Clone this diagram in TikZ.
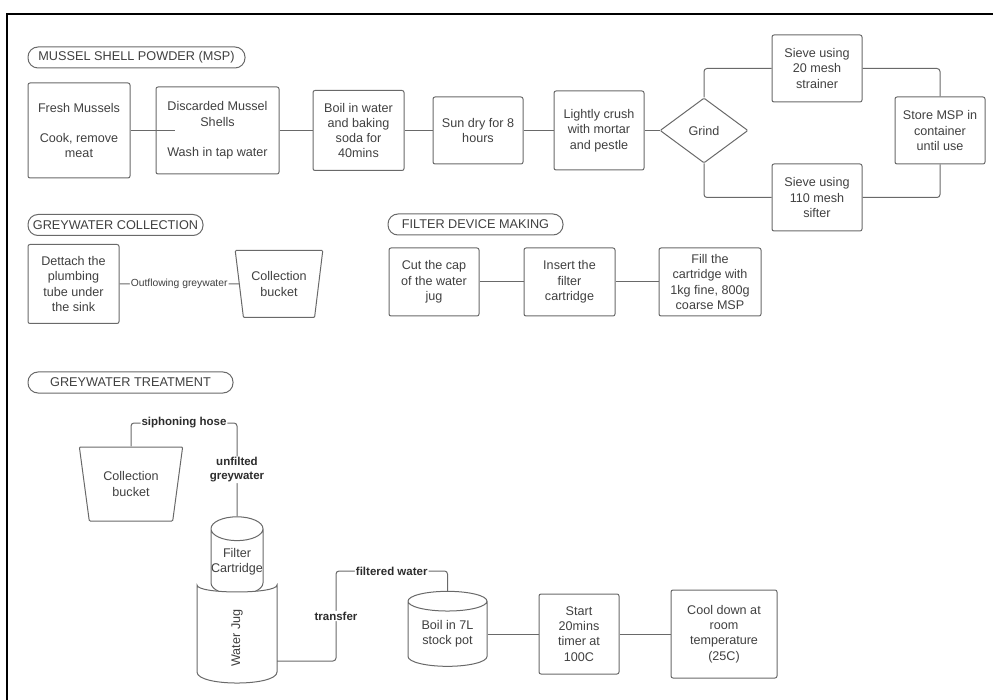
\documentclass[tikz,border=0pt]{standalone}
\usepackage{fontspec}
\setmainfont{Liberation Sans}
\usepackage{xcolor}
\definecolor{lcgrey}{RGB}{105,105,105}
\definecolor{lctext}{RGB}{64,64,64}
\definecolor{lclabel}{RGB}{45,45,45}
\usepackage{tikz}
\usetikzlibrary{shapes.geometric}
\tikzset{
  procbox/.style={draw=lcgrey, line width=1pt, rounded corners=2pt, align=center, inner sep=1pt, text=lctext, font=\fontsize{12.6}{15.3}\selectfont},
  pill/.style={draw=lcgrey, line width=1pt, rounded corners=10pt, minimum height=21pt, inner sep=0pt, text=lctext, font=\fontsize{12.7}{15}\selectfont},
  link/.style={draw=lcgrey, line width=1pt, rounded corners=3pt},
  lbl/.style={fill=white, inner sep=1pt, text=lctext, font=\fontsize{10.3}{12}\selectfont},
  blbl/.style={fill=white, inner sep=1pt, text=lclabel, align=center, font=\fontsize{11.5}{14}\selectfont\bfseries},
  bucket/.style={procbox, trapezium, trapezium stretches=true, shape border rotate=180, rounded corners=1pt},
  drum/.style={procbox, cylinder, shape border rotate=90, sharp corners, fill=white, inner sep=0pt},
}

\begin{document}
\begin{tikzpicture}[x=1pt, y=-1pt]
  \useasboundingbox (0,0) rectangle (993,700);
  \draw[line width=1.5pt] (7,700) -- (7,14) -- (993,14);

  % mussel shell powder
  \node[pill, minimum width=217pt] (tmsp) at (136.5,57.5) {MUSSEL SHELL POWDER (MSP)};
  \node[procbox, minimum width=102pt, minimum height=95pt] (fresh) at (79,130.5) {Fresh Mussels\\[15.3pt]Cook, remove\\meat};
  \node[procbox, minimum width=123pt, minimum height=87pt] (shells) at (217.5,130.5) {Discarded Mussel\\Shells\\[15.3pt]Wash in tap water};
  \coordinate (shellin) at (175,130.5);
  \node[procbox, minimum width=91pt, minimum height=80pt] (boil) at (358.5,130.5) {Boil in water\\and baking\\soda for\\40mins};
  \node[procbox, minimum width=90pt, minimum height=67pt] (sundry) at (478,130.5) {Sun dry for 8\\hours};
  \node[procbox, minimum width=90pt, minimum height=79pt] (crush) at (599,130.5) {Lightly crush\\with mortar\\and pestle};
  \node[procbox, diamond, minimum width=88pt, minimum height=65pt, inner sep=0pt, rounded corners=1pt] (grind) at (704,130.5) {Grind};
  \node[procbox, minimum width=90pt, minimum height=67pt] (sieveA) at (817,68.5) {Sieve using\\20 mesh\\strainer};
  \node[procbox, minimum width=90pt, minimum height=67pt] (sieveB) at (817,197.5) {Sieve using\\110 mesh\\sifter};
  \node[procbox, minimum width=90pt, minimum height=67pt] (store) at (940,130.5) {Store MSP in\\container\\until use};
  \draw[link] (fresh.east) -- (shellin);
  \draw[link] (shells.east) -- (boil.west);
  \draw[link] (boil.east) -- (sundry.west);
  \draw[link] (sundry.east) -- (crush.west);
  \draw[link] (crush.east) -- (grind.west);
  \draw[link] (grind.north) |- (sieveA.west);
  \draw[link] (grind.south) |- (sieveB.west);
  \draw[link] (sieveA.east) -| (store.north);
  \draw[link] (sieveB.east) -| (store.south);

  % greywater collection
  \node[pill, minimum width=175pt] (tcoll) at (115.5,225) {GREYWATER COLLECTION};
  \node[procbox, minimum width=91pt, minimum height=79pt] (detach) at (73.5,284) {Dettach the\\plumbing\\tube under\\the sink};
  \node[bucket, minimum width=88pt, minimum height=67pt, trapezium left angle=76, trapezium right angle=76] (buckA) at (279,284) {Collection\\bucket};
  \draw[link] (detach.east) -- node[lbl]{Outflowing greywater} (buckA);

  % filter device making
  \node[pill, minimum width=175pt] (tfilt) at (475.5,224.5) {FILTER DEVICE MAKING};
  \node[procbox, minimum width=90pt, minimum height=68pt] (cutcap) at (434,282) {Cut the cap\\of the water\\jug};
  \node[procbox, minimum width=91pt, minimum height=68pt] (insert) at (569.5,282) {Insert the\\filter\\cartridge};
  \node[procbox, minimum width=102pt, minimum height=68pt] (fillcart) at (710,282) {Fill the\\cartridge with\\1kg fine, 800g\\coarse MSP};
  \draw[link] (cutcap.east) -- (insert.west);
  \draw[link] (insert.east) -- (fillcart.west);

  % greywater treatment
  \node[pill, minimum width=205pt] (ttreat) at (130.5,382.5) {GREYWATER TREATMENT};
  \node[bucket, minimum width=104pt, minimum height=74pt, trapezium left angle=75.6, trapezium right angle=75.6] (buckB) at (131,484) {Collection\\bucket};
  \node[drum, minimum width=52pt, minimum height=78pt, aspect=0.46] (cart) at (237,562) {Filter\\Cartridge};
  \draw[draw=lcgrey, line width=1pt, fill=white] (197,585) .. controls (197,594.3) and (277,594.3) .. (277,585)
    -- (277,672) .. controls (277,686.7) and (197,686.7) .. (197,672) -- cycle;
  \node[rotate=90, text=lctext, font=\fontsize{12.6}{15.3}\selectfont] (jug) at (237,638) {Water Jug};
  \coordinate (jugout) at (277,661);
  \coordinate (hoseA) at (237,423);
  \coordinate (hoseB) at (336,571);
  \node[drum, minimum width=79pt, minimum height=75pt, aspect=0.38] (pot) at (447.5,634) {Boil in 7L\\stock pot};
  \node[procbox, minimum width=80pt, minimum height=80pt] (timer) at (579,634) {Start\\20mins\\timer at\\100C};
  \node[procbox, minimum width=106pt, minimum height=88pt] (cool) at (724,634) {Cool down at\\room\\temperature\\(25C)};
  \draw[link] (buckB) |- node[blbl, pos=0.75]{siphoning hose} (hoseA) -- node[blbl]{unfilted\\greywater} (cart);
  \draw[link] (jugout) -| node[blbl, pos=0.75]{transfer} (hoseB) -| node[blbl, pos=0.25]{filtered water} (pot);
  \draw[link] (pot) -- (timer);
  \draw[link] (timer.east) -- (cool.west);
\end{tikzpicture}
\end{document}
